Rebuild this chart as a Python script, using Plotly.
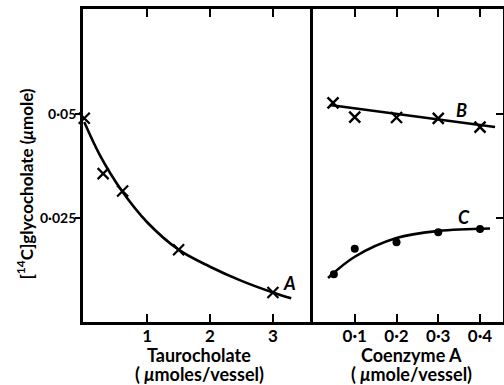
import plotly.graph_objects as go

# ---- data ----
tauro_x = [0.0, 0.30, 0.61, 1.50, 3.00]
tauro_y = [0.0490, 0.0357, 0.0315, 0.0174, 0.0071]
curveA_x = [0.0, 0.25, 0.60, 1.0, 1.5, 2.0, 2.5, 3.0, 3.29]
curveA_y = [0.0481, 0.0401, 0.0315, 0.0240, 0.0174, 0.0133, 0.0099, 0.0071, 0.0057]

coa_B_x = [0.048, 0.10, 0.20, 0.30, 0.40]
coa_B_y = [0.0527, 0.0493, 0.0492, 0.0490, 0.0469]
lineB_x = [0.04, 0.436]
lineB_y = [0.0522, 0.0469]

coa_C_x = [0.05, 0.10, 0.20, 0.30, 0.40]
coa_C_y = [0.0115, 0.0176, 0.0192, 0.0216, 0.0224]
curveC_x = [0.036, 0.10, 0.20, 0.30, 0.424]
curveC_y = [0.0106, 0.0157, 0.0202, 0.0219, 0.0225]

left_ticks = [1, 2, 3]
left_ticktext = ["1", "2", "3"]
right_ticks = [0.1, 0.2, 0.3, 0.4]
right_ticktext = ["0·1", "0·2", "0·3", "0·4"]
y_ticks = [0.025, 0.05]
y_ticktext = ["0·025", "0·05"]

FONT = "Lato"
INK = "black"
LW = 2.6

fig = go.Figure()

fig.add_trace(go.Scatter(x=curveA_x, y=curveA_y, mode="lines", line=dict(color=INK, width=LW, shape="spline"),
                         xaxis="x", yaxis="y", showlegend=False, hoverinfo="skip"))
fig.add_trace(go.Scatter(x=tauro_x, y=tauro_y, mode="markers",
                         marker=dict(symbol="x-thin", size=11, line=dict(color=INK, width=2.2)),
                         xaxis="x", yaxis="y", showlegend=False, cliponaxis=False))

fig.add_trace(go.Scatter(x=lineB_x, y=lineB_y, mode="lines", line=dict(color=INK, width=LW),
                         xaxis="x2", yaxis="y2", showlegend=False, hoverinfo="skip"))
fig.add_trace(go.Scatter(x=coa_B_x, y=coa_B_y, mode="markers",
                         marker=dict(symbol="x-thin", size=11, line=dict(color=INK, width=2.4)),
                         xaxis="x2", yaxis="y2", showlegend=False))
fig.add_trace(go.Scatter(x=curveC_x, y=curveC_y, mode="lines", line=dict(color=INK, width=LW, shape="spline"),
                         xaxis="x2", yaxis="y2", showlegend=False, hoverinfo="skip"))
fig.add_trace(go.Scatter(x=coa_C_x, y=coa_C_y, mode="markers",
                         marker=dict(symbol="circle", size=8, color=INK),
                         xaxis="x2", yaxis="y2", showlegend=False))

split = 0.5466
XTICKFONT = dict(family=FONT, size=17, color=INK, weight="bold")
YTICKFONT = dict(family=FONT, size=14, color=INK, weight="bold")
axis_common = dict(showline=True, linecolor=INK, linewidth=2.8, showgrid=False, zeroline=False,
                   tickcolor=INK, tickwidth=2.2, automargin=False)

fig.update_layout(
    width=504, height=385,
    margin=dict(l=83, r=1, t=9, b=63, autoexpand=False),
    paper_bgcolor="white", plot_bgcolor="white",
    font=dict(family=FONT, color=INK),
    xaxis=dict(domain=[0, split], range=[-0.02, 3.63], tickvals=left_ticks, ticktext=left_ticktext,
               ticks="inside", ticklen=8, mirror="ticks", anchor="y", ticklabelstandoff=-3,
               tickfont=XTICKFONT, **axis_common),
    xaxis2=dict(domain=[split, 1], range=[-0.001, 0.455], tickvals=right_ticks, ticktext=right_ticktext,
                ticks="inside", ticklen=8, mirror="ticks", anchor="y2", ticklabelstandoff=-3,
                tickfont=XTICKFONT, **axis_common),
    yaxis=dict(domain=[0, 1], range=[0, 0.0753], tickvals=y_ticks, ticktext=y_ticktext,
               ticks="outside", ticklen=5, mirror=False, anchor="x", ticklabelstandoff=-4,
               tickfont=YTICKFONT, **axis_common),
    yaxis2=dict(domain=[0, 1], range=[0, 0.0753], tickvals=y_ticks, ticktext=y_ticktext,
                ticks="inside", ticklen=7, mirror=True, side="right", anchor="x2",
                showticklabels=False, tickfont=YTICKFONT, **axis_common),
)

lab = dict(family=FONT, size=18, color=INK, weight="bold")
fig.add_annotation(x=3.26, y=0.0095, xref="x", yref="y", text="<i>A</i>", showarrow=False,
                   font=lab, xanchor="center", yanchor="middle")
fig.add_annotation(x=0.356, y=0.0511, xref="x2", yref="y2", text="<i>B</i>", showarrow=False,
                   font=lab, xanchor="center", yanchor="middle")
fig.add_annotation(x=0.362, y=0.0253, xref="x2", yref="y2", text="<i>C</i>", showarrow=False,
                   font=lab, xanchor="center", yanchor="middle")

# axis titles placed via paper fractions computed from pixel targets
pw = 504 - 83 - 1
ph = 385 - 9 - 63
def px(xp):
    return (xp - 83) / pw
def py(yp):
    return (385 - 63 - yp) / ph

YTITLEFONT = dict(family=FONT, size=17, color=INK, weight="bold")
XTITLEFONT = dict(family=FONT, size=18, color=INK, weight="bold")
fig.add_annotation(x=px(25), y=py(184.5), xref="paper", yref="paper",
                   text="[<sup>14</sup>C]glycocholate (<i>μ</i>mole)", textangle=-90, showarrow=False,
                   font=YTITLEFONT, xanchor="center", yanchor="middle")
for cx, l1, l2 in [(199, "Taurocholate", "( <i>μ</i>moles/vessel)"),
                   (411, "Coenzyme A", "( <i>μ</i>mole/vessel)")]:
    fig.add_annotation(x=px(cx), y=py(355), xref="paper", yref="paper", text=l1, showarrow=False,
                       font=XTITLEFONT, xanchor="center", yanchor="middle")
    fig.add_annotation(x=px(cx), y=py(374), xref="paper", yref="paper", text=l2, showarrow=False,
                       font=XTITLEFONT, xanchor="center", yanchor="middle")

fig.write_html("out.html", config={"displayModeBar": False},
               post_script="document.body.style.margin='0px';document.body.style.overflow='hidden';")
